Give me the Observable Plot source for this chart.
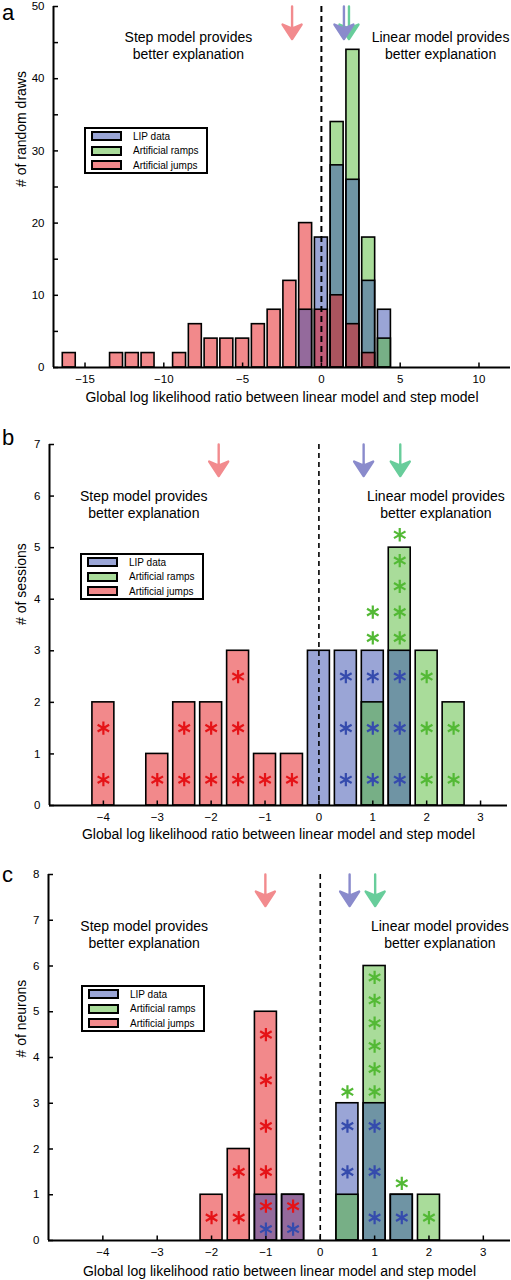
<!DOCTYPE html>
<html>
<head>
<meta charset="utf-8">
<script src="https://cdn.jsdelivr.net/npm/d3@7"></script>
<script src="https://cdn.jsdelivr.net/npm/@observablehq/plot@0.6"></script>
<style>
  body { margin: 0; background: #fff; font-family: "Liberation Sans", Arial, sans-serif; }
  #fig { position: relative; width: 511px; height: 1280px; overflow: hidden; background: #fff; }
  #fig svg { position: absolute; left: 0; }
  .letter { position: absolute; left: 2px; font-size: 22px; line-height: normal; }
  .legend { position: absolute; width: 124px; height: 47px; border: 2px solid #000; box-sizing: border-box; background: #fff; font-size: 10px; }
  .legend .row { position: absolute; left: 5px; height: 10px; display: flex; align-items: center; white-space: nowrap; }
  .legend .sw { width: 31px; height: 10px; border: 2px solid #000; box-sizing: border-box; margin-right: 11px; }
</style>
</head>
<body>
<div id="fig"></div>
<script>
// ---------- shared ----------
const seriesNames = ["LIP data", "Artificial ramps", "Artificial jumps"];
const barColors = ["#354bad", "#53b935", "#e51317"];
const arrowColors = ["#8a8bcc", "#68cd9b", "#f28b8e"];
const xLabel = "Global log likelihood ratio between linear model and step model";
const stepText = "Step model provides\nbetter explanation";
const linearText = "Linear model provides\nbetter explanation";

// ---------- panel a ----------
const aBins  = [-16, -13, -12, -11, -9, -8, -7, -6, -5, -4, -3, -2, -1, 0, 1, 2, 3, 4];
const aJumps = [2, 2, 2, 2, 2, 6, 4, 4, 4, 6, 8, 12, 20, 8, 10, 6, 2, 0];
const aLIP   = [0, 0, 0, 0, 0, 0, 0, 0, 0, 0, 0, 0, 8, 18, 28, 26, 12, 8];
const aRamps = [0, 0, 0, 0, 0, 0, 0, 0, 0, 0, 0, 0, 0, 0, 34, 44, 18, 4];
const aArrows = [1.43, 1.75, -1.86];           // LIP, ramps, jumps
const aXTicks = [-15, -10, -5, 0, 5, 10];
const aYTicks = [0, 10, 20, 30, 40, 50];
const aYMinor = [5, 15, 25, 35, 45];

// ---------- panel b ----------
const bBins  = [-4, -3, -2.5, -2, -1.5, -1, -0.5, 0, 0.5, 1, 1.5, 2, 2.5];
const bJumps = [2, 1, 2, 2, 3, 1, 1, 0, 0, 0, 0, 0, 0];
const bLIP   = [0, 0, 0, 0, 0, 0, 0, 3, 3, 3, 3, 0, 0];
const bRamps = [0, 0, 0, 0, 0, 0, 0, 0, 0, 2, 5, 3, 2];
const bArrows = [0.83, 1.51, -1.86];
const bStarsLIP   = [[0.5,0.5],[0.5,1.5],[0.5,2.5],[1,0.5],[1,1.5],[1,2.5],[1.5,0.5],[1.5,1.5],[1.5,2.5]];
const bStarsRamps = [[1,3.25],[1,3.75],[1.5,3.25],[1.5,3.75],[1.5,4.25],[1.5,4.75],[1.5,5.25],[2,0.5],[2,1.5],[2,2.5],[2.5,0.5],[2.5,1.5]];
const bStarsJumps = [[-4,0.5],[-4,1.5],[-3,0.5],[-2.5,0.5],[-2.5,1.5],[-2,0.5],[-2,1.5],[-1.5,0.5],[-1.5,1.5],[-1.5,2.5],[-1,0.5],[-0.5,0.5]];
const bXTicks = [-4, -3, -2, -1, 0, 1, 2, 3];
const bYTicks = [0, 1, 2, 3, 4, 5, 6, 7];

// ---------- panel c ----------
const cBins  = [-2, -1.5, -1, -0.5, 0.5, 1, 1.5, 2];
const cJumps = [1, 2, 5, 1, 0, 0, 0, 0];
const cLIP   = [0, 0, 1, 1, 3, 3, 1, 0];
const cRamps = [0, 0, 0, 0, 1, 6, 1, 1];
const cArrows = [0.54, 1.01, -1.01];
const cStarsLIP   = [[-1,0.25],[-0.5,0.25],[0.5,1.5],[0.5,2.5],[1,0.5],[1,1.5],[1,2.5],[1.5,0.5]];
const cStarsRamps = [[0.5,3.25],[1,3.25],[1,3.75],[1,4.25],[1,4.75],[1,5.25],[1,5.75],[1.5,1.25],[2,0.5]];
const cStarsJumps = [[-2,0.5],[-1.5,0.5],[-1.5,1.5],[-1,0.75],[-1,1.5],[-1,2.5],[-1,3.5],[-1,4.5],[-0.5,0.75]];
const cXTicks = [-4, -3, -2, -1, 0, 1, 2, 3];
const cYTicks = [0, 1, 2, 3, 4, 5, 6, 7, 8];

// ---------- helpers ----------
const fmt = d => d < 0 ? "\u2212" + Math.abs(d) : String(d);

const arrowShape = {
  draw(ctx, l) {
    const hl = 16, hw = 9.5, notch = 4;
    ctx.moveTo(0, 0);
    ctx.lineTo(0, -l + hl - notch);
    ctx.moveTo(0, -l + 1.5);
    ctx.lineTo(-hw, -l + hl);
    ctx.lineTo(0, -l + hl - notch);
    ctx.lineTo(hw, -l + hl);
    ctx.closePath();
  }
};

function buildRows(bins, lip, ramps, jumps) {
  const rows = [];
  const order = {"Artificial ramps": 0, "Artificial jumps": 1, "LIP data": 2};
  bins.forEach((b, i) => {
    [[lip, "LIP data"], [ramps, "Artificial ramps"], [jumps, "Artificial jumps"]].forEach(([arr, name]) => {
      if (arr[i] > 0) rows.push({x: b, count: arr[i], series: name});
    });
  });
  // taller bars first so shorter ones are drawn on top
  rows.sort((a, b) => b.count - a.count || order[a.series] - order[b.series]);
  return rows;
}

function buildStars(lip, ramps, jumps) {
  return [
    ...lip.map(([x, y]) => ({x, y, series: "LIP data"})),
    ...ramps.map(([x, y]) => ({x, y, series: "Artificial ramps"})),
    ...jumps.map(([x, y]) => ({x, y, series: "Artificial jumps"}))
  ];
}

function makePanel(cfg) {
  const innerH = cfg.height - cfg.mt - cfg.mb;
  const innerW = 511 - cfg.ml - cfg.mr;
  const rows = buildRows(cfg.bins, cfg.lip, cfg.ramps, cfg.jumps);
  const arrows = cfg.arrows.map((x, i) => ({x, color: arrowColors[i]}));
  const arrowOrder = [2, 1, 0]; // jumps, ramps, then LIP on top
  const marks = [
    Plot.rect(rows, {
      x1: d => d.x - cfg.binW / 2, x2: d => d.x + cfg.binW / 2,
      y1: 0, y2: "count",
      insetLeft: cfg.inset, insetRight: cfg.inset,
      fill: "series", fillOpacity: 0.5, stroke: "black", strokeWidth: 1.6
    }),
    Plot.ruleX([0], {stroke: "black", strokeWidth: cfg.dashW, strokeDasharray: cfg.dash}),
    Plot.ruleX(cfg.xTicks, {x: d => d, insetTop: innerH - 4.5, stroke: "black", strokeWidth: 1.5}),
    Plot.ruleY(cfg.yTicks.concat(cfg.yMinor || []), {y: d => d, insetRight: innerW - 5, stroke: "black", strokeWidth: 1.5}),
    Plot.ruleY([0], {stroke: "black", strokeWidth: 2}),
    Plot.ruleX([cfg.xDomain[0]], {stroke: "black", strokeWidth: 2}),
    Plot.axisX(cfg.xTicks, {tickSize: 0, tickPadding: 7, tickFormat: fmt, label: null, fontSize: 11.5}),
    Plot.axisY(cfg.yTicks, {tickSize: 0, tickPadding: 9, tickFormat: fmt, label: null, fontSize: 11.5}),
    ...arrowOrder.map(i => Plot.vector([arrows[i]], {
      x: "x", frameAnchor: "top", length: cfg.arrowLen, rotate: 180, anchor: "start",
      shape: arrowShape, stroke: arrows[i].color, fill: arrows[i].color, strokeWidth: 2.4
    })),
    Plot.text([stepText], {x: () => cfg.stepX, frameAnchor: "top", lineAnchor: "middle", dy: cfg.textDy, fontSize: 14, lineHeight: 1.2}),
    Plot.text([linearText], {x: () => cfg.linearX, frameAnchor: "top", lineAnchor: "middle", dy: cfg.textDy, fontSize: 14, lineHeight: 1.2}),
    Plot.text([xLabel], {frameAnchor: "bottom", lineAnchor: "middle", dy: cfg.xLabelDy, fontSize: 14}),
    Plot.text([cfg.yLabel], {frameAnchor: "left", lineAnchor: "middle", rotate: -90, dx: cfg.yLabelDx, fontSize: 14})
  ];
  if (cfg.stars) {
    marks.push(Plot.dot(cfg.stars, {x: "x", y: "y", symbol: "asterisk", r: 6.3, stroke: "series", strokeWidth: 2.2}));
  }
  const svg = Plot.plot({
    width: 511, height: cfg.height,
    marginTop: cfg.mt, marginBottom: cfg.mb, marginLeft: cfg.ml, marginRight: cfg.mr,
    x: {domain: cfg.xDomain, nice: false},
    y: {domain: cfg.yDomain, nice: false},
    color: {domain: seriesNames, range: barColors},
    style: {fontFamily: "'Liberation Sans', Arial, sans-serif", fontSize: "12px", background: "transparent", overflow: "visible", color: "black"},
    marks
  });
  svg.style.top = cfg.top + "px";
  return svg;
}

function makeLegend(left, top) {
  const div = document.createElement("div");
  div.className = "legend";
  div.style.left = left + "px";
  div.style.top = top + "px";
  seriesNames.forEach((name, i) => {
    const row = document.createElement("div");
    row.className = "row";
    row.style.top = (2 + i * 14.5) + "px";
    const sw = document.createElement("div");
    sw.className = "sw";
    const c = d3.color(barColors[i]); c.opacity = 0.5;
    sw.style.background = c.formatRgb();
    const t = document.createElement("span");
    t.textContent = name;
    row.appendChild(sw); row.appendChild(t);
    div.appendChild(row);
  });
  return div;
}

function makeLetter(ch, top) {
  const d = document.createElement("div");
  d.className = "letter";
  d.style.top = top + "px";
  d.textContent = ch;
  return d;
}

const fig = document.getElementById("fig");

fig.appendChild(makePanel({
  top: 0, height: 415, mt: 6, mb: 48, ml: 53, mr: 1,
  bins: aBins, lip: aLIP, ramps: aRamps, jumps: aJumps, arrows: aArrows,
  xDomain: [-17, 12], yDomain: [0, 50], xTicks: aXTicks, yTicks: aYTicks, yMinor: aYMinor,
  binW: 1, inset: 1.4, dash: "6,4", dashW: 2, arrowLen: 34,
  stepX: -8.44, linearX: 7.56, textDy: 38.5, xLabelDy: 30, yLabelDx: -32,
  yLabel: "# of random draws"
}));

fig.appendChild(makePanel({
  top: 415, height: 430, mt: 29, mb: 40, ml: 49, mr: 4,
  bins: bBins, lip: bLIP, ramps: bRamps, jumps: bJumps, arrows: bArrows,
  stars: buildStars(bStarsLIP, bStarsRamps, bStarsJumps),
  xDomain: [-5, 3.5], yDomain: [0, 7], xTicks: bXTicks, yTicks: bYTicks,
  binW: 0.5, inset: 2.5, dash: "5,4", dashW: 1.6, arrowLen: 33,
  stepX: -3.25, linearX: 2.17, textDy: 59.3, xLabelDy: 29, yLabelDx: -28,
  yLabel: "# of sessions"
}));

fig.appendChild(makePanel({
  top: 845, height: 435, mt: 29, mb: 40, ml: 48, mr: 1,
  bins: cBins, lip: cLIP, ramps: cRamps, jumps: cJumps, arrows: cArrows,
  stars: buildStars(cStarsLIP, cStarsRamps, cStarsJumps),
  xDomain: [-5, 3.5], yDomain: [0, 8], xTicks: cXTicks, yTicks: cYTicks,
  binW: 0.5, inset: 2.6, dash: "5,4", dashW: 1.6, arrowLen: 33,
  stepX: -3.24, linearX: 2.2, textDy: 60, xLabelDy: 31.5, yLabelDx: -27,
  yLabel: "# of neurons"
}));

fig.appendChild(makeLegend(84, 127));
fig.appendChild(makeLegend(80, 553));
fig.appendChild(makeLegend(81, 985));

fig.appendChild(makeLetter("a", 0));
fig.appendChild(makeLetter("b", 425));
fig.appendChild(makeLetter("c", 862));
</script>
</body>
</html>
